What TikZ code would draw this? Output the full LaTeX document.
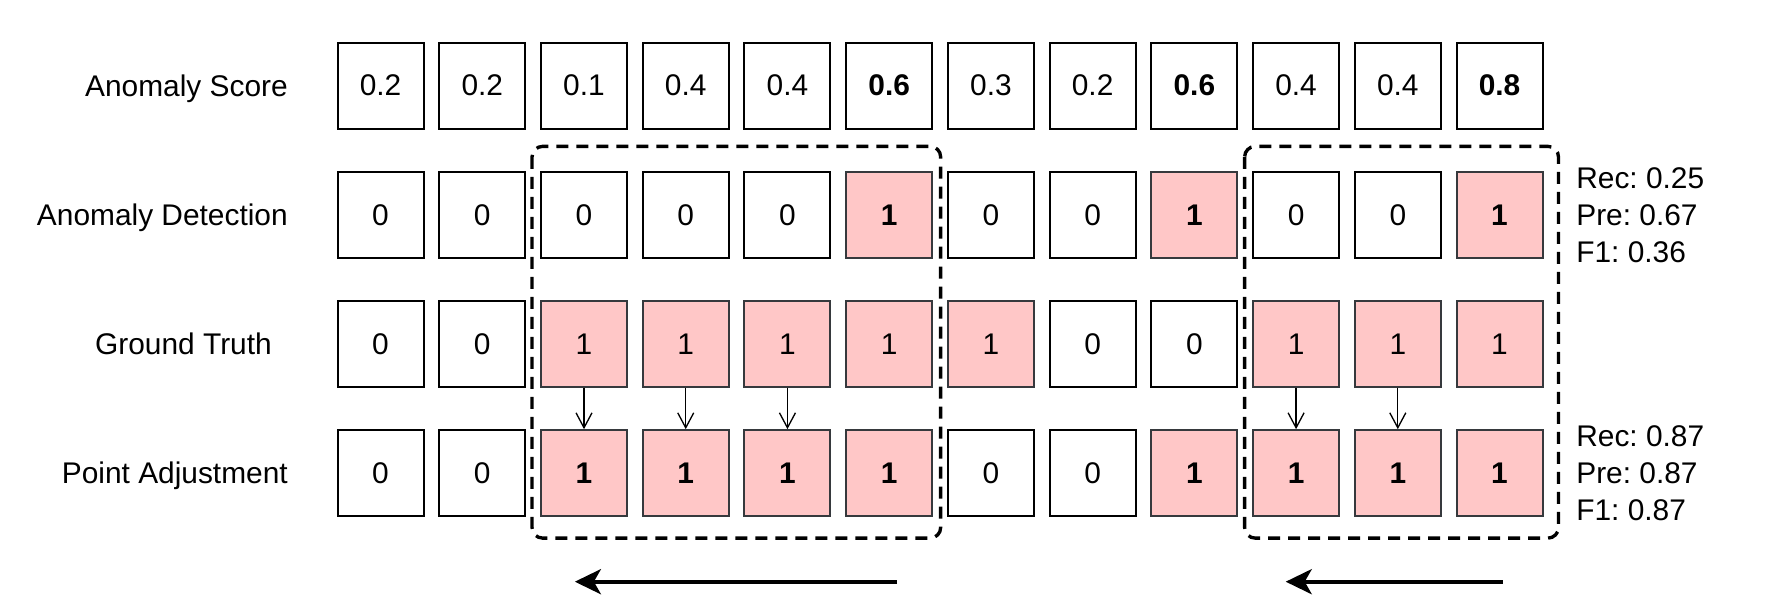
\documentclass[tikz,border=0pt]{standalone}
\usepackage{fontspec}
\setmainfont{Liberation Sans}
\usepackage{xcolor}
\definecolor{cellpink}{HTML}{FFC7C7}
\definecolor{cellgray}{HTML}{36393D}
\usetikzlibrary{arrows.meta,positioning}
\frenchspacing

\begin{document}
\begin{tikzpicture}[
  cell/.style={draw=black, fill=white, line width=1.1pt,
               minimum width=1.72cm, minimum height=1.72cm, inner sep=0pt,
               font=\fontsize{17}{20}\selectfont},
  hit/.style={cell, draw=cellgray, fill=cellpink},
  lbl/.style={inner sep=0pt, text depth=0pt, font=\fontsize{17}{20}\selectfont},
  met/.style={inner sep=0pt, align=left, font=\fontsize{17}{21}\selectfont},
  win/.style={draw=black, line width=1.9pt, rounded corners=6pt,
              dash pattern=on 0.24cm off 0.16cm},
  adj/.style={-{Straight Barb[length=0.3cm,width=0.32cm]}, line width=0.75pt},
  slide/.style={-{Stealth[length=0.52cm,width=0.5cm,inset=0.14cm]},
                line width=2.3pt}
]
  \useasboundingbox (0,0) rectangle (35.84,12.229);

  % score, detection, truth, adjusted rows
  \foreach \s/\v [count=\i] in {cell/0.2,cell/0.2,cell/0.1,cell/0.4,cell/0.4,
      cell/\textbf{0.6},cell/0.3,cell/0.2,cell/\textbf{0.6},cell/0.4,cell/0.4,
      cell/\textbf{0.8}}
    \node[\s] (s\i) at ({7.611+2.0345*(\i-1)},10.515) {\v};
  \foreach \s/\v [count=\i] in {cell/0,cell/0,cell/0,cell/0,cell/0,
      hit/\textbf{1},cell/0,cell/0,hit/\textbf{1},cell/0,cell/0,hit/\textbf{1}}
    \node[\s] (d\i) at ({7.611+2.0345*(\i-1)},7.932) {\v};
  \foreach \s/\v [count=\i] in {cell/0,cell/0,hit/1,hit/1,hit/1,hit/1,
      hit/1,cell/0,cell/0,hit/1,hit/1,hit/1}
    \node[\s] (g\i) at ({7.611+2.0345*(\i-1)},5.349) {\v};
  \foreach \s/\v [count=\i] in {cell/0,cell/0,hit/\textbf{1},hit/\textbf{1},
      hit/\textbf{1},hit/\textbf{1},cell/0,cell/0,hit/\textbf{1},
      hit/\textbf{1},hit/\textbf{1},hit/\textbf{1}}
    \node[\s] (p\i) at ({7.611+2.0345*(\i-1)},2.766) {\v};

  \node[lbl, left=0.97cm of s1] {Anomaly Score};
  \node[lbl, left=0.97cm of d1] {Anomaly Detection};
  \node[lbl, left=1.29cm of g1] {Ground Truth};
  \node[lbl, left=0.97cm of p1] {Point Adjustment};

  \node[met, right=0.65cm of d12] {Rec: 0.25\\Pre: 0.67\\F1: 0.36};
  \node[met, right=0.65cm of p12] {Rec: 0.87\\Pre: 0.87\\F1: 0.87};

  % anomaly segments
  \draw[win] ([xshift=-0.16cm,yshift=0.49cm]d3.north west)
    rectangle ([xshift=0.15cm,yshift=-0.42cm]p6.south east);
  \draw[win] ([xshift=-0.15cm,yshift=0.49cm]d10.north west)
    rectangle ([xshift=0.3cm,yshift=-0.42cm]p12.south east);

  \foreach \i in {3,4,5,10,11}
    \draw[adj] (g\i) -- (p\i);

  \coordinate (a1) at (17.943,0.595);
  \coordinate (a0) at (11.497,0.595);
  \coordinate (b1) at (30.057,0.595);
  \coordinate (b0) at (25.714,0.595);
  \draw[slide] (a1) -- (a0);
  \draw[slide] (b1) -- (b0);
\end{tikzpicture}
\end{document}
